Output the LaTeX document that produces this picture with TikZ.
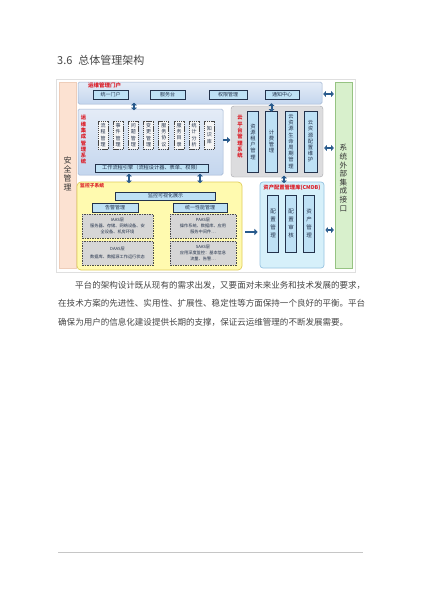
\documentclass[tikz,border=0pt]{standalone}
\usepackage{fontspec}
\setmainfont{Noto Sans CJK SC}
\usetikzlibrary{arrows.meta,calc}

\definecolor{peach}{RGB}{252,226,210}
\definecolor{peachline}{RGB}{238,205,185}
\definecolor{greenfill}{RGB}{216,240,204}
\definecolor{greenline}{RGB}{150,195,130}
\definecolor{bluetop}{RGB}{228,236,247}
\definecolor{bluebot}{RGB}{196,214,238}
\definecolor{blueline}{RGB}{160,180,210}
\definecolor{cellfill}{RGB}{190,225,245}
\definecolor{navy}{RGB}{35,50,75}
\definecolor{grayfill}{RGB}{220,220,222}
\definecolor{grayline}{RGB}{165,165,170}
\definecolor{yellowfill}{RGB}{255,250,175}
\definecolor{yellowline}{RGB}{225,205,90}
\definecolor{cyanfill}{RGB}{214,240,250}
\definecolor{cyanline}{RGB}{150,195,225}
\definecolor{labelred}{RGB}{220,30,40}
\definecolor{arrowblue}{RGB}{40,90,140}
\definecolor{textgray}{RGB}{70,70,70}
\definecolor{dashfill}{RGB}{214,214,214}

\tikzset{
  cont/.style={draw=blueline, line width=0.5pt, top color=bluetop, bottom color=bluebot, rounded corners=1.5pt, inner sep=0pt},
  cell/.style={draw=navy, line width=0.7pt, fill=cellfill, inner sep=0pt, font=\fontsize{5}{5}\selectfont, text=navy},
  vcell/.style={cell, align=center, font=\fontsize{5.3}{6.2}\selectfont},
  dcell/.style={draw=textgray, dash pattern=on 1.3pt off 0.8pt, line width=0.7pt, fill=white!92!gray, inner sep=0pt, align=center, font=\fontsize{5}{6.2}\selectfont, text=navy},
  redlab/.style={text=labelred, font=\bfseries\fontsize{5.5}{5.5}\selectfont, inner sep=0pt},
  vredlab/.style={text=labelred, align=center, font=\bfseries\fontsize{5.3}{6.3}\selectfont, inner sep=0pt},
  layer/.style={draw=black!70, dash pattern=on 1.5pt off 1pt, line width=0.6pt, fill=dashfill, inner sep=0pt, align=center, font=\fontsize{4.2}{5.4}\selectfont, text=navy},
  arr/.style={-{Triangle[length=3.2pt,width=6pt]}, line width=2pt, draw=arrowblue},
  darr/.style={{Triangle[length=2.6pt,width=5.8pt]}-{Triangle[length=2.6pt,width=5.8pt]}, line width=2pt, draw=arrowblue},
  para/.style={anchor=west, inner sep=0pt, text=textgray, font=\fontsize{8.53}{8.53}\selectfont},
}

\begin{document}
\begin{tikzpicture}[x=1pt, y=-1pt]
\useasboundingbox (0,0) rectangle (424,600);
\fill[white] (0,0) rectangle (424,600);

% title
\node[anchor=west, inner sep=0pt, text=textgray, font=\fontsize{11}{11}\selectfont] (title) at (57,60) {3.6\hspace{6pt}总体管理架构};

% faint frame of the figure
\draw[gray!25, line width=0.6pt] (56,79) rectangle (355,272);

% side columns
\node[draw=peachline, fill=peach, minimum width=17pt, minimum height=186pt, inner sep=0pt] (sec) at (67.5,175) {};
\node[align=center, inner sep=0pt, text=black!80, font=\fontsize{8}{9}\selectfont] (sectxt) at (67.5,174) {安\\全\\管\\理};
\node[draw=greenline, fill=greenfill, minimum width=17pt, minimum height=186pt, inner sep=0pt] (ext) at (343.5,175) {};
\node[align=center, inner sep=0pt, text=black!80, font=\fontsize{7.6}{8.6}\selectfont] (exttxt) at (343.5,178) {系\\统\\外\\部\\集\\成\\接\\口};

% portal
\node[cont, minimum width=244pt, minimum height=22pt] (portal) at (200,93) {};
\node[redlab, anchor=west] (portallab) at (88,85.5) {运维管理门户};
\node[cell, minimum width=35pt, minimum height=9pt] (p1) at (110.5,95) {统一门户};
\node[cell, minimum width=35pt, minimum height=9pt] (p2) at (167.5,95) {服务台};
\node[cell, minimum width=38pt, minimum height=9pt] (p3) at (228,95) {权限管理};
\node[cell, minimum width=34pt, minimum height=9pt] (p4) at (282,95) {通知中心};

% ops integration system
\node[cont, minimum width=145pt, minimum height=66pt] (ops) at (150.5,142) {};
\node[vredlab] (opslab) at (83.5,140) {运\\维\\集\\成\\管\\理\\系\\统};
\node[dcell, minimum width=10pt, minimum height=28pt] (s1) at (103,135) {流\\程\\管\\理};
\node[dcell, minimum width=10pt, minimum height=28pt] (s2) at (118.2,135) {事\\件\\管\\理};
\node[dcell, minimum width=10pt, minimum height=28pt] (s3) at (133.4,135) {问\\题\\管\\理};
\node[dcell, minimum width=10pt, minimum height=28pt] (s4) at (148.6,135) {变\\更\\管\\理};
\node[dcell, minimum width=10pt, minimum height=28pt] (s5) at (163.8,135) {服\\务\\协\\议};
\node[dcell, minimum width=10pt, minimum height=28pt] (s6) at (179,135) {服\\务\\目\\录};
\node[dcell, minimum width=10pt, minimum height=28pt] (s7) at (194.2,135) {统\\计\\分\\析};
\node[dcell, minimum width=10pt, minimum height=28pt] (s8) at (209.4,135) {知\\识\\库};
\node[cell, minimum width=113pt, minimum height=8pt, font=\fontsize{5.2}{5.2}\selectfont] (wf) at (151.5,168) {工作流程引擎（流程设计器、表单、权限）};

% cloud platform
\node[draw=grayline, fill=grayfill, rounded corners=3pt, minimum width=92pt, minimum height=71pt, inner sep=0pt] (cloud) at (277,141.5) {};
\node[vredlab] (cloudlab) at (240,137) {云\\平\\台\\管\\理\\系\\统};
\node[vcell, minimum width=11pt, minimum height=61pt] (c1) at (253,141.5) {资\\源\\租\\户\\管\\理};
\node[vcell, minimum width=12pt, minimum height=61pt] (c2) at (271.5,141.5) {计\\费\\管\\理};
\node[vcell, minimum width=12pt, minimum height=61pt] (c3) at (291,141.5) {云\\资\\源\\生\\命\\周\\期\\管\\理};
\node[vcell, minimum width=13pt, minimum height=61pt] (c4) at (310.5,141.5) {云\\资\\源\\配\\置\\维\\护};

% monitoring subsystem
\node[draw=yellowline, fill=yellowfill, rounded corners=4pt, line width=0.7pt, minimum width=165pt, minimum height=88pt, inner sep=0pt] (mon) at (159.5,226) {};
\node[redlab, anchor=west, font=\bfseries\fontsize{4.8}{4.8}\selectfont] (monlab) at (80,186) {监控子系统};
\node[cell, minimum width=100pt, minimum height=8pt] (vis) at (165.5,196) {监控可视化展示};
\node[cell, minimum width=46pt, minimum height=9pt] (alarm) at (115,207.5) {告警管理};
\node[cell, minimum width=54pt, minimum height=9pt] (perf) at (200,207.5) {统一性能管理};
\node[layer, minimum width=71pt, minimum height=24pt] (iaas) at (117.5,226) {IAAS层\\[0.5pt]服务器、存储、网络设备、安\\全设备、机房环境};
\node[layer, minimum width=71pt, minimum height=24pt] (daas) at (117.5,253) {DAAS层\\[2.5pt]数据库、数据源工作运行状态};
\node[layer, minimum width=66pt, minimum height=24pt] (paas) at (203,226) {PAAS层\\[0.5pt]操作系统、数据库、应用\\服务中间件…};
\node[layer, minimum width=66pt, minimum height=24pt] (saas) at (203,253) {SAAS层\\[0.5pt]应用深度监控：基本信息\\流量、告警…};

% CMDB
\node[draw=cyanline, fill=cyanfill, rounded corners=3pt, line width=0.7pt, minimum width=64pt, minimum height=86pt, inner sep=0pt] (cmdb) at (292,225) {};
\node[redlab, font=\bfseries\fontsize{5.3}{5.3}\selectfont] (cmdblab) at (292,187.5) {资产配置管理库(CMDB)};
\node[vcell, font=\fontsize{5.5}{8}\selectfont, minimum width=11pt, minimum height=57pt] (m1) at (273,223.5) {配\\置\\管\\理};
\node[vcell, font=\fontsize{5.5}{8}\selectfont, minimum width=11pt, minimum height=57pt] (m2) at (291,223.5) {配\\置\\审\\核};
\node[vcell, font=\fontsize{5.5}{8}\selectfont, minimum width=11pt, minimum height=57pt] (m3) at (309,223.5) {资\\产\\管\\理};

% connectors
\coordinate (ax1) at (134,0);
\coordinate (ax2) at (271.5,0);
\coordinate (ax3) at (129,0);
\coordinate (ax4) at (200,0);
\coordinate (ax5) at (284,0);
\coordinate (ay1) at (0,94);
\coordinate (ay2) at (0,140);
\coordinate (ay3) at (0,148);
\coordinate (ay4) at (0,232);
\coordinate (ay5) at (0,230);

\draw[darr, shorten <=-1.5pt, shorten >=-1.5pt] (portal.south -| ax1) -- (ops.north -| ax1);
\draw[darr, shorten <=-1pt, shorten >=-1pt] (portal.south -| ax2) -- (c2.north -| ax2);
\draw[arr, shorten >=0.5pt] (ops.east |- ay2) -- (cloud.west |- ay2);
\draw[darr, shorten <=1pt, shorten >=1pt] (cloud.east |- ay3) -- (ext.west |- ay3);
\draw[darr, shorten <=1pt, shorten >=1pt] (portal.east |- ay1) -- (ext.west |- ay1);
\draw[darr, shorten <=-1.5pt, shorten >=-1.5pt] (ops.south -| ax3) -- (mon.north -| ax3);
\draw[darr, shorten <=-1.5pt, shorten >=-1.5pt] (ops.south -| ax4) -- (mon.north -| ax4);
\draw[darr, shorten <=-1.5pt, shorten >=-1.5pt] (cloud.south -| ax5) -- (cmdb.north -| ax5);
\draw[arr, shorten <=3pt, shorten >=2pt] (mon.east |- ay4) -- (cmdb.west |- ay4);
\draw[darr, shorten <=1pt, shorten >=1pt] (cmdb.east |- ay5) -- (ext.west |- ay5);

% body text
\node[para] (l1) at (75,285) {平台的架构设计既从现有的需求出发，又要面对未来业务和技术发展的要求，};
\node[para] (l2) at (58,303) {在技术方案的先进性、实用性、扩展性、稳定性等方面保持一个良好的平衡。平台};
\node[para] (l3) at (58,322) {确保为用户的信息化建设提供长期的支撑，保证云运维管理的不断发展需要。};

% footer rule
\draw[gray!45, line width=1pt] (58,552) -- (363,552);
\end{tikzpicture}
\end{document}
